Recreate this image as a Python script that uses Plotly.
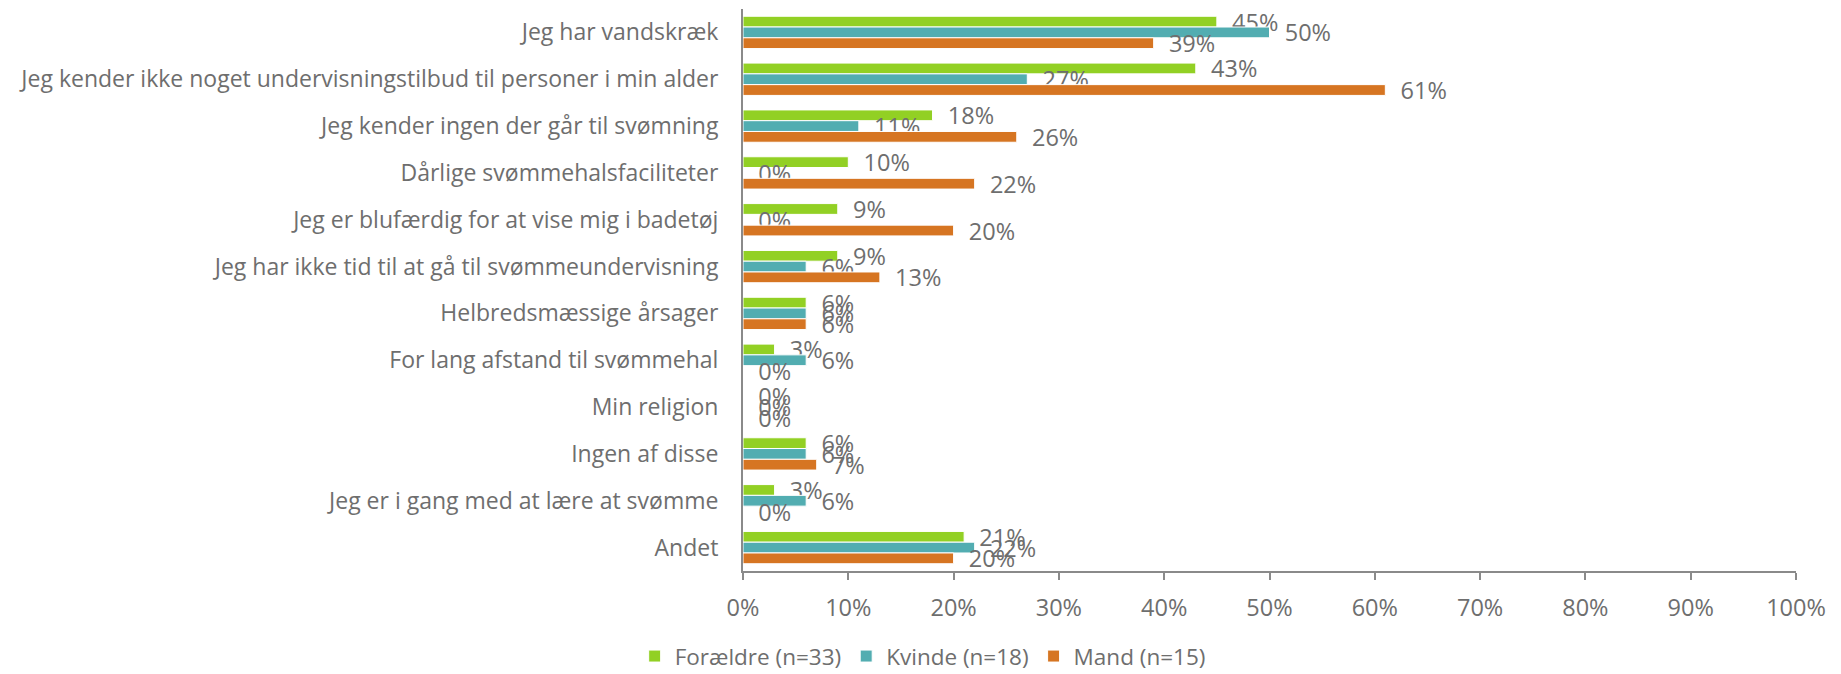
import plotly.graph_objects as go

categories = [
    "Jeg har vandskræk",
    "Jeg kender ikke noget undervisningstilbud til personer i min alder",
    "Jeg kender ingen der går til svømning",
    "Dårlige svømmehalsfaciliteter",
    "Jeg er blufærdig for at vise mig i badetøj",
    "Jeg har ikke tid til at gå til svømmeundervisning",
    "Helbredsmæssige årsager",
    "For lang afstand til svømmehal",
    "Min religion",
    "Ingen af disse",
    "Jeg er i gang med at lære at svømme",
    "Andet",
]
foraeldre = [45, 43, 18, 10, 9, 9, 6, 3, 0, 6, 3, 21]
kvinde = [50, 27, 11, 0, 0, 6, 6, 6, 0, 6, 6, 22]
mand = [39, 61, 26, 22, 20, 13, 6, 0, 0, 7, 0, 20]
series_names = ["Forældre (n=33)", "Kvinde (n=18)", "Mand (n=15)"]
x_ticks = [0, 10, 20, 30, 40, 50, 60, 70, 80, 90, 100]
x_tick_labels = [f"{v}%" for v in x_ticks]

colors = ["#92D024", "#52ADB1", "#D67522"]
FONT = "'Open Sans', sans-serif"
GREY = "#6E6E6E"
FS = 23.5

fig = go.Figure()
for name, vals, col in zip(series_names, [foraeldre, kvinde, mand], colors):
    fig.add_trace(go.Bar(
        y=categories, x=vals, name=name, orientation="h",
        marker=dict(color=col, line=dict(color="white", width=1)),
        text=[f"\u00a0\u00a0{v}%" for v in vals],
        textposition="outside", constraintext="none", cliponaxis=False,
        textfont=dict(family=FONT, size=FS, color=GREY),
    ))

# page body has an 8px default margin, so the figure is sized to fit
fig.update_layout(
    width=1833, height=666,
    barmode="group", bargap=0.31, bargroupgap=0.0,
    plot_bgcolor="white", paper_bgcolor="white",
    margin=dict(l=735, r=45, t=1, b=103, autoexpand=False),
    font=dict(family=FONT, size=FS, color=GREY),
    showlegend=True,
    legend=dict(orientation="h", xref="container", x=0.499, xanchor="center",
                yref="paper", y=-0.152, yanchor="middle",
                borderwidth=0,
                font=dict(family=FONT, size=22.5, color=GREY),
                itemclick=False),
)
fig.update_xaxes(range=[0, 100], tickvals=x_ticks, ticktext=x_tick_labels,
                 showgrid=False, zeroline=False, showline=True, linecolor="#8A8A8A",
                 linewidth=2, ticks="outside", ticklen=7, tickcolor="#8A8A8A",
                 tickwidth=2, ticklabelstandoff=8, automargin=False,
                 tickfont=dict(family=FONT, size=FS, color=GREY))
fig.update_yaxes(autorange="reversed", showgrid=False, showline=True,
                 linecolor="#8A8A8A", linewidth=2, ticks="",
                 ticklabelstandoff=18, automargin=False,
                 tickfont=dict(family=FONT, size=23, color=GREY))

fig.write_html("out.html")
